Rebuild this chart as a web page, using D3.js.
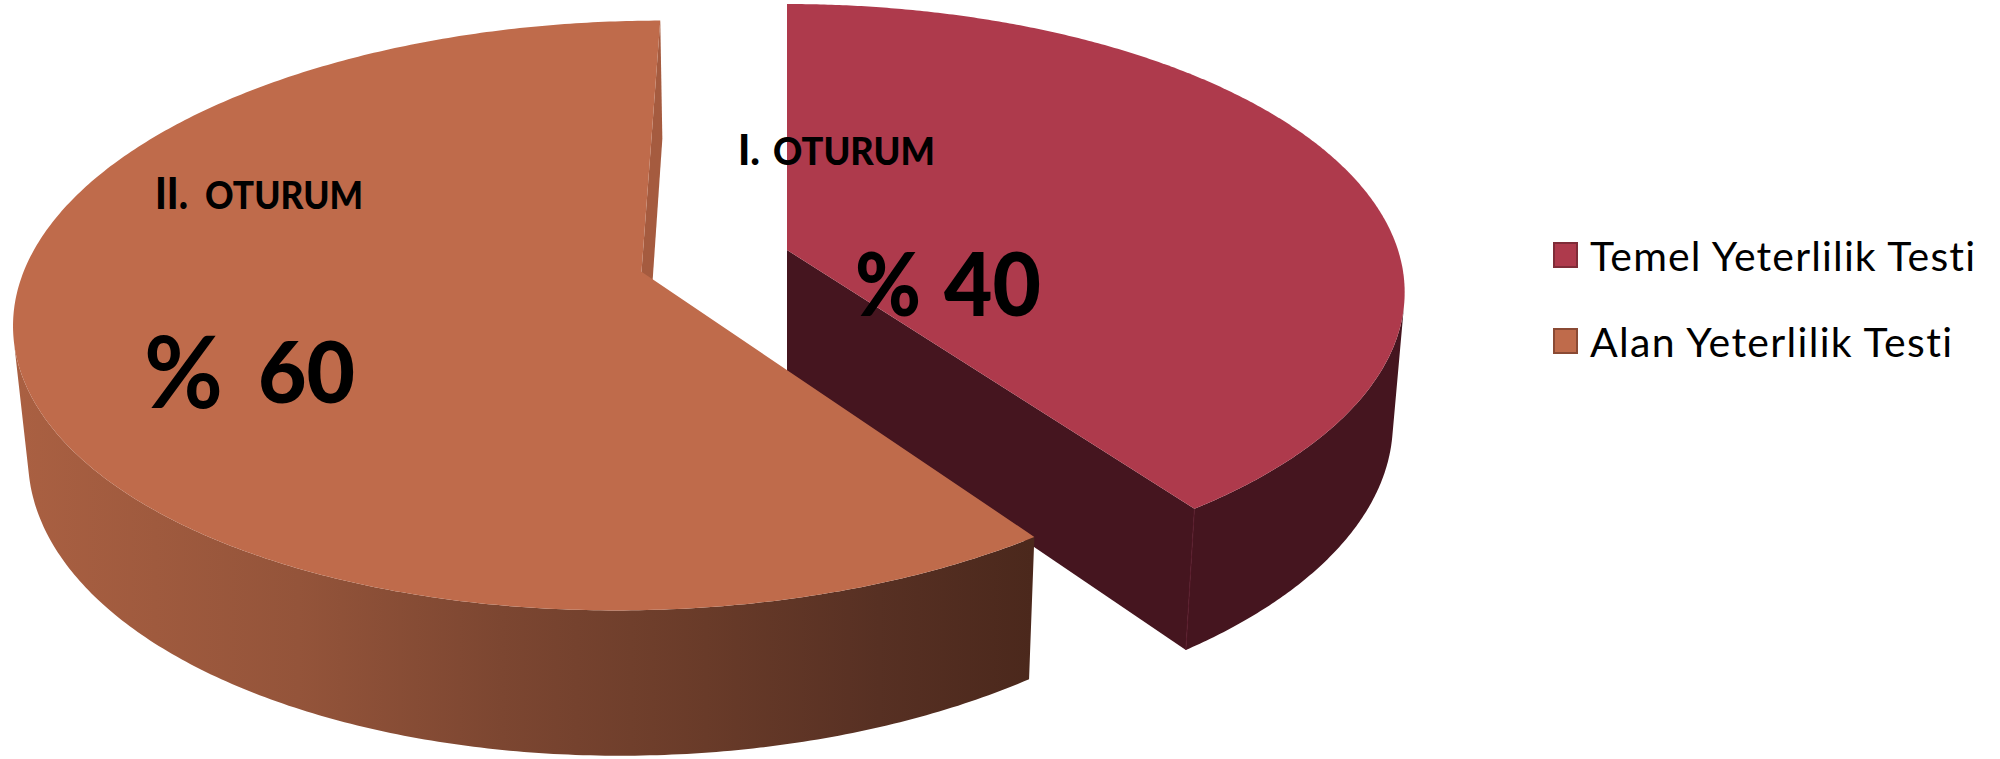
<!DOCTYPE html>
<html><head><meta charset="utf-8">
<script src="https://cdnjs.cloudflare.com/ajax/libs/d3/7.8.5/d3.min.js"></script>
<style>html,body{margin:0;padding:0;background:#fff;overflow:hidden}svg{display:block}text{font-family:Lato,sans-serif;fill:#000;font-variant-ligatures:none}</style>
</head><body><svg id="c" width="2000" height="759"></svg>
<script>
const categories = ["Temel Yeterlilik Testi", "Alan Yeterlilik Testi"];
const values = [40, 60];
const sessionLabels = ["OTURUM", "OTURUM"];
const sessionNumerals = ["I.", "II."];
const percentLabels = ["% 40", "% 60"];
const topColors = ["#ae3a4c", "#bf6b4b"];
const sideColors = ["#45151f", "#a55b3f"];
const swatchStrokes = ["#7f2c38", "#8a4a34"];

// camera model of the tilted pie
const cx = 787, cy = 250, kx = 611, ky = 282, persp = 0.1465, dropY = 132, dropW = 0.019, explode = 0.2476;
const sx = d3.scaleLinear([0, 1], [0, kx]);
const sy = d3.scaleLinear([0, 1], [0, ky]);
const svg = d3.select("#c");

const pie = d3.pie().sort(null).startAngle(0).endAngle(2 * Math.PI);
const arcs = pie(values);

function project(U, V, H) {
  const w = 1 - persp * V + dropW * H;
  return [cx + sx(U) / w, cy + (sy(V) + dropY * H) / w];
}
const offsets = arcs.map((a, i) => {
  if (i === 0) return [0, 0];
  const m = (a.startAngle + a.endAngle) / 2;
  return [Math.sin(m) * explode, -Math.cos(m) * explode];
});
const line = d3.line();
const pt = (i, a, H) => project(offsets[i][0] + Math.sin(a), offsets[i][1] - Math.cos(a), H);
const centre = (i, H) => project(offsets[i][0], offsets[i][1], H);
const sweep = (i, from, to, H) => d3.range(0, 361).map(n => pt(i, from + (to - from) * n / 360, H));

const defs = svg.append("defs");
const grad = defs.append("linearGradient").attr("id", "sideGrad")
  .attr("gradientUnits", "userSpaceOnUse").attr("x1", 13).attr("x2", 1032).attr("y1", 0).attr("y2", 0);
[[0, "#aa6042"], [0.28, "#94543a"], [0.48, "#7c4631"], [0.68, "#693b29"], [0.85, "#573023"], [1, "#4b281c"]]
  .forEach(([o, c]) => grad.append("stop").attr("offset", o).attr("stop-color", c));

function drawSlice(i) {
  const a = arcs[i];
  const outerFill = i === 0 ? sideColors[0] : "url(#sideGrad)";
  const c0 = centre(i, 0), c1 = centre(i, 1);
  const rimTop = sweep(i, a.startAngle, a.endAngle, 0);
  const rimBottom = sweep(i, a.startAngle, a.endAngle, 1);
  // keep the part of the outer wall that faces the viewer: one polygon, closed along the silhouette
  const quad = n => [rimTop[n], rimTop[n + 1], rimBottom[n + 1], rimBottom[n]];
  const frontSign = Math.sign(d3.polygonArea([pt(i, 3.14, 0), pt(i, 3.15, 0), pt(i, 3.15, 1), pt(i, 3.14, 1)]));
  const front = d3.range(0, rimTop.length - 1).filter(n => Math.sign(d3.polygonArea(quad(n))) === frontSign);
  const upper = front.map(n => rimTop[n]).concat([rimTop[front[front.length - 1] + 1]]);
  const lower = front.map(n => rimBottom[n]).concat([rimBottom[front[front.length - 1] + 1]]);
  svg.append("path").attr("d", line(upper.concat(lower.reverse())) + "Z").attr("fill", outerFill);
  // the cut wall that is not hidden by the top face
  svg.append("path").attr("d", line([c0, pt(i, a.endAngle, 0), pt(i, a.endAngle, 1), c1]) + "Z")
    .attr("fill", sideColors[i]);
  // top
  svg.append("path").attr("d", line([c0].concat(rimTop)) + "Z").attr("fill", topColors[i]);
}
drawSlice(0);
svg.append("path").attr("d", line([pt(0, arcs[0].endAngle, 0), pt(0, arcs[0].endAngle, 1)]))
  .attr("stroke", "#5a1c2c").attr("stroke-width", 1).attr("fill", "none");
drawSlice(1);

// labels
function txt(s, x, y, size, weight, len) {
  const t = svg.append("text").attr("x", x).attr("y", y).attr("font-size", size).attr("font-weight", weight).text(s);
  if (len) t.attr("textLength", len).attr("lengthAdjust", "spacingAndGlyphs");
}
txt(sessionNumerals[0], 738, 165, 42, 900, 22);
txt(sessionLabels[0], 773, 165, 37, 900, 162);
txt(sessionNumerals[1], 155, 209, 43, 900, 33);
txt(sessionLabels[1], 205, 209, 37, 900, 158);
const [sign0, num0] = percentLabels[0].split(" ");
const [sign1, num1] = percentLabels[1].split(" ");
txt(sign0, 855, 316, 88, 900, 66);
txt(num0, 944, 316, 88, 900, 97);
txt(sign1, 144, 408, 100, 700, 79);
txt(num1, 258, 403, 86, 900, 97);

// legend
const legendY = d3.scalePoint().domain(categories).range([242, 328]);
const legendLen = [385, 362];
categories.forEach((c, i) => {
  svg.append("rect").attr("x", 1554).attr("y", legendY(c) + 1).attr("width", 23).attr("height", 24)
    .attr("fill", topColors[i]).attr("stroke", swatchStrokes[i]).attr("stroke-width", 2);
  svg.append("text").attr("x", 1590).attr("y", legendY(c) + 29).attr("font-size", 41)
    .attr("textLength", legendLen[i]).attr("lengthAdjust", "spacing").text(c);
});
</script></body></html>
